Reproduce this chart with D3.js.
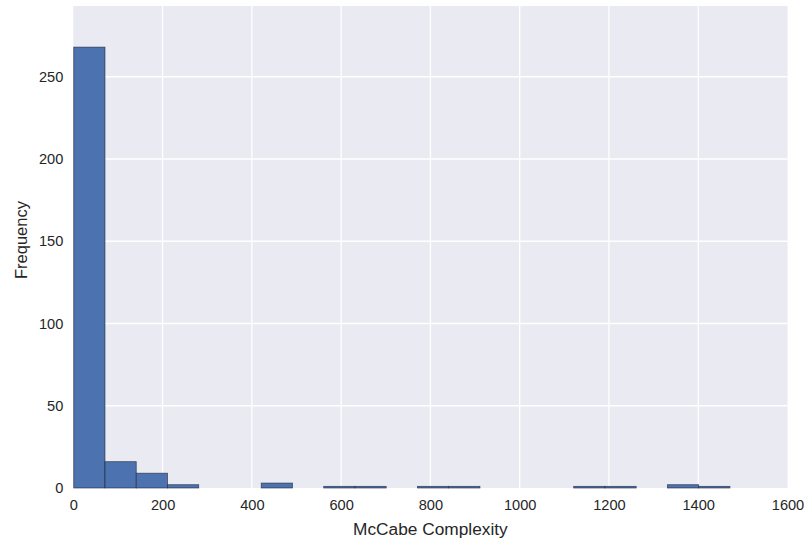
<!DOCTYPE html>
<html>
<head>
<meta charset="utf-8">
<script src="https://cdn.jsdelivr.net/npm/d3@7"></script>
<style>
  html, body { margin: 0; padding: 0; background: #ffffff; }
  svg { display: block; }
  text { font-family: "Liberation Sans", Arial, sans-serif; fill: #262626; }
</style>
</head>
<body>
<svg id="chart" width="807" height="542"></svg>
<script>
// Histogram bins of McCabe complexity: lower/upper edges and counts per bin
const binEdges = [1, 71, 141, 211, 281, 351, 421, 491, 561, 631, 701, 771,
                  841, 911, 981, 1051, 1121, 1191, 1261, 1331, 1401, 1471];
const binCounts = [268, 16, 9, 2, 0, 0, 3, 0, 1, 1, 0, 1,
                   1, 0, 0, 0, 1, 1, 0, 2, 1];
const xTicks = [0, 200, 400, 600, 800, 1000, 1200, 1400, 1600];
const yTicks = [0, 50, 100, 150, 200, 250];
const xLabel = "McCabe Complexity";
const yLabel = "Frequency";

const bins = binCounts.map((c, i) => ({ x0: binEdges[i], x1: binEdges[i + 1], count: c }));

const margin = { left: 73.3, right: 19.5, top: 6, bottom: 54 };
const W = 807, H = 542;
const svg = d3.select("#chart");

const x = d3.scaleLinear().domain([0, 1600]).range([margin.left, W - margin.right]);
const y = d3.scaleLinear().domain([0, 293]).range([H - margin.bottom, margin.top]);

// plot background
svg.append("rect")
  .attr("x", x(0)).attr("y", y(293))
  .attr("width", x(1600) - x(0)).attr("height", y(0) - y(293))
  .attr("fill", "#EAEAF2");

// white grid lines
const grid = svg.append("g");
grid.selectAll("line.gx").data(xTicks.slice(1, -1)).join("line")
  .attr("x1", d => x(d)).attr("x2", d => x(d))
  .attr("y1", y(0)).attr("y2", y(293))
  .attr("stroke", "#ffffff").attr("stroke-width", 1.3);
grid.selectAll("line.gy").data(yTicks.slice(1)).join("line")
  .attr("y1", d => y(d)).attr("y2", d => y(d))
  .attr("x1", x(0)).attr("x2", x(1600))
  .attr("stroke", "#ffffff").attr("stroke-width", 1.3);

// bars
svg.append("g").selectAll("rect").data(bins.filter(b => b.count > 0)).join("rect")
  .attr("x", d => x(d.x0))
  .attr("y", d => y(d.count))
  .attr("width", d => x(d.x1) - x(d.x0))
  .attr("height", d => y(0) - y(d.count))
  .attr("fill", "#4C72B0")
  .attr("stroke", "#1a2233")
  .attr("stroke-opacity", 0.7)
  .attr("stroke-width", 0.8);

// axes (labels only, no tick marks or spines)
const xAxis = d3.axisBottom(x).tickValues(xTicks).tickSize(0).tickPadding(12).tickFormat(d3.format("d"));
const gx = svg.append("g").attr("transform", `translate(0,${y(0)})`).call(xAxis);
gx.select(".domain").remove();
gx.selectAll("text").attr("font-size", 14.6).style("font-family", "'Liberation Sans', Arial, sans-serif").attr("fill", "#2e2e2e");

const yAxis = d3.axisLeft(y).tickValues(yTicks).tickSize(0).tickPadding(10).tickFormat(d3.format("d"));
const gy = svg.append("g").attr("transform", `translate(${x(0)},0)`).call(yAxis);
gy.select(".domain").remove();
gy.selectAll("text").attr("font-size", 14.6).style("font-family", "'Liberation Sans', Arial, sans-serif").attr("fill", "#2e2e2e");

svg.append("text")
  .attr("x", (x(0) + x(1600)) / 2).attr("y", 535)
  .attr("text-anchor", "middle").attr("font-size", 17.3)
  .attr("fill", "#262626")
  .text(xLabel);

svg.append("text")
  .attr("transform", `translate(27,240) rotate(-90)`)
  .attr("text-anchor", "middle").attr("font-size", 16.5)
  .attr("fill", "#262626")
  .text(yLabel);
</script>
</body>
</html>
